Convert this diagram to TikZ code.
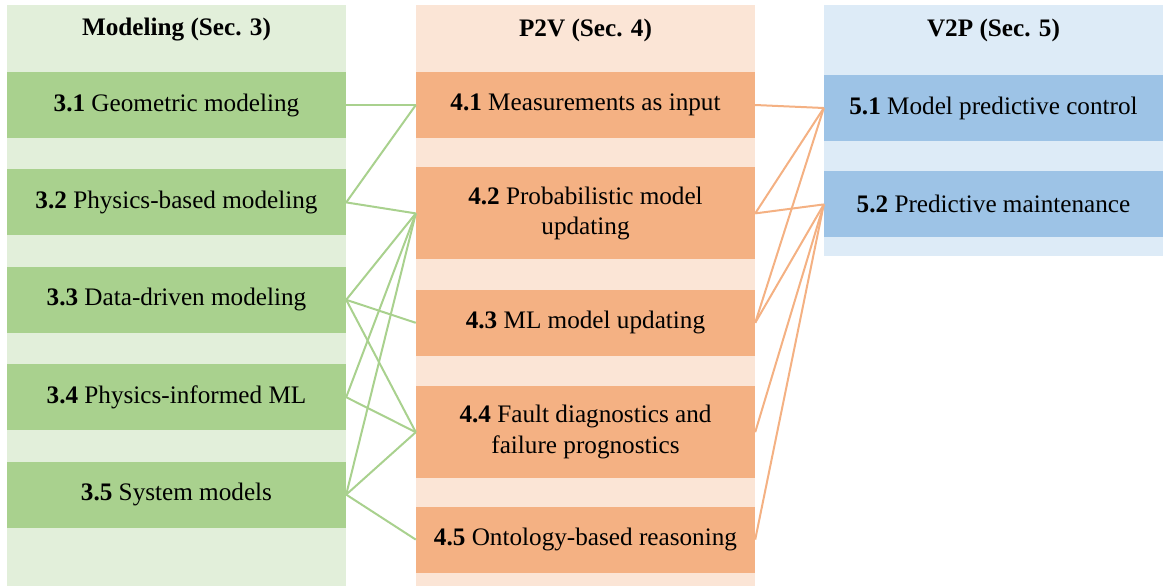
\documentclass[tikz,border=0pt]{standalone}
\usepackage{fontspec}
\setmainfont{LiberationSerif}[Extension=.ttf, UprightFont=*-Regular, BoldFont=*-Bold, ItalicFont=*-Italic, BoldItalicFont=*-BoldItalic]
\usepackage{tikz}
\usetikzlibrary{positioning}
\definecolor{grnbox}{HTML}{A9D18E}
\definecolor{grnbg}{HTML}{E2EFDA}
\definecolor{orgbox}{HTML}{F4B183}
\definecolor{orgbg}{HTML}{FBE5D6}
\definecolor{blubox}{HTML}{9DC3E6}
\definecolor{blubg}{HTML}{DDEBF7}
\tikzstyle{every node}+=[inner sep=0pt]
\tikzstyle{block} = [rectangle, font=\fontsize{25.2}{30.5}\selectfont, align=center, minimum width=339pt, minimum height=66pt]
\tikzstyle{tall} = [minimum height=92pt]
\tikzstyle{head} = [font=\fontsize{25.2}{30.5}\selectfont\bfseries]
\tikzstyle{gline} = [draw, grnbox, line width=2pt]
\tikzstyle{oline} = [draw, orgbox, line width=2pt]

\begin{document}
\begin{tikzpicture}[x=1pt, y=-1pt]
            \useasboundingbox (0,0) rectangle (1164,587);
            % Column backgrounds
            \fill [grnbg] (7,5) rectangle (346,586);
            \fill [orgbg] (416,5) rectangle (755,586);
            \fill [blubg] (824,5) rectangle (1163,256);
            % Place nodes
            \node [head] (h3) at (176.5,30) {Modeling (Sec. 3)};
            \node [head] (h4) at (585.5,30) {P2V (Sec. 4)};
            \node [head] (h5) at (993.5,30) {V2P (Sec. 5)};
            \node [block, fill=grnbox] (n31) at (176.5,105) {\textbf{3.1} Geometric modeling};
            \node [block, fill=grnbox, below=31pt of n31] (n32) {\textbf{3.2} Physics-based modeling};
            \node [block, fill=grnbox, below=31pt of n32] (n33) {\textbf{3.3} Data-driven modeling};
            \node [block, fill=grnbox, below=31pt of n33] (n34) {\textbf{3.4} Physics-informed ML};
            \node [block, fill=grnbox, below=31pt of n34] (n35) {\textbf{3.5} System models};
            \node [block, fill=orgbox] (n41) at (585.5,105) {\textbf{4.1} Measurements as input};
            \node [block, tall, fill=orgbox, below=29pt of n41] (n42) {\textbf{4.2} Probabilistic model\\updating};
            \node [block, fill=orgbox, below=30pt of n42] (n43) {\textbf{4.3} ML model updating};
            \node [block, tall, fill=orgbox, below=30pt of n43] (n44) {\textbf{4.4} Fault diagnostics and\\failure prognostics};
            \node [block, fill=orgbox, below=28pt of n44] (n45) {\textbf{4.5} Ontology-based reasoning};
            \node [block, fill=blubox] (n51) at (993.5,108) {\textbf{5.1} Model predictive control};
            \node [block, fill=blubox, below=30pt of n51] (n52) {\textbf{5.2} Predictive maintenance};
            % Draw edges
            \path [gline] (n31.east) -- (n41.west);
            \path [gline] (n32.east) -- (n41.west);
            \path [gline] (n32.east) -- (n42.west);
            \path [gline] (n33.east) -- (n42.west);
            \path [gline] (n33.east) -- (n43.west);
            \path [gline] (n33.east) -- (n44.west);
            \path [gline] (n34.east) -- (n42.west);
            \path [gline] (n34.east) -- (n44.west);
            \path [gline] (n35.east) -- (n42.west);
            \path [gline] (n35.east) -- (n44.west);
            \path [gline] (n35.east) -- (n45.west);
            \path [oline] (n41.east) -- (n51.west);
            \path [oline] (n42.east) -- (n51.west);
            \path [oline] (n42.east) -- (n52.west);
            \path [oline] (n43.east) -- (n51.west);
            \path [oline] (n43.east) -- (n52.west);
            \path [oline] (n44.east) -- (n52.west);
            \path [oline] (n45.east) -- (n52.west);
          \end{tikzpicture}
\end{document}
